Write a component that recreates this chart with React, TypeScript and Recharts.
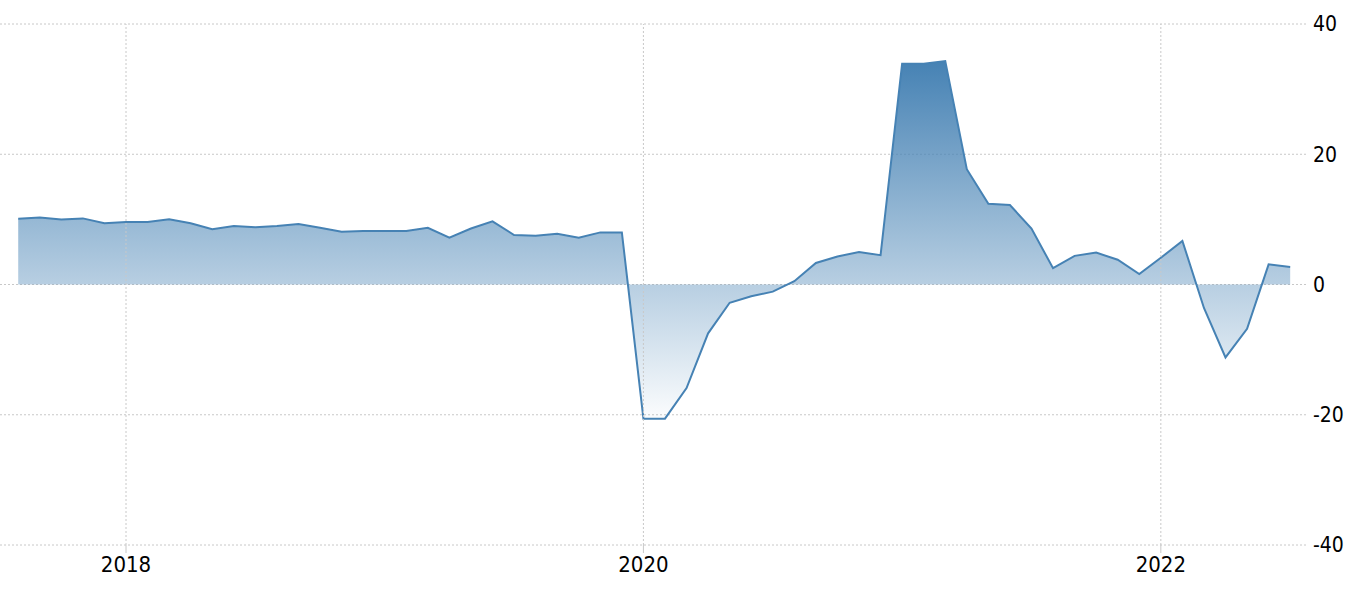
import { AreaChart, Area, XAxis, YAxis, CartesianGrid, ReferenceLine } from 'recharts';

// monthly readings, Aug 2017 .. Jul 2022
const months = [
  '2017-08', '2017-09', '2017-10', '2017-11', '2017-12',
  '2018-01', '2018-02', '2018-03', '2018-04', '2018-05', '2018-06',
  '2018-07', '2018-08', '2018-09', '2018-10', '2018-11', '2018-12',
  '2019-01', '2019-02', '2019-03', '2019-04', '2019-05', '2019-06',
  '2019-07', '2019-08', '2019-09', '2019-10', '2019-11', '2019-12',
  '2020-01', '2020-02', '2020-03', '2020-04', '2020-05', '2020-06',
  '2020-07', '2020-08', '2020-09', '2020-10', '2020-11', '2020-12',
  '2021-01', '2021-02', '2021-03', '2021-04', '2021-05', '2021-06',
  '2021-07', '2021-08', '2021-09', '2021-10', '2021-11', '2021-12',
  '2022-01', '2022-02', '2022-03', '2022-04', '2022-05', '2022-06',
  '2022-07',
];

const values = [
  10.1, 10.3, 10.0, 10.15, 9.4,
  9.6, 9.6, 10.0, 9.4, 8.5, 9.0,
  8.8, 9.0, 9.3, 8.7, 8.1, 8.2,
  8.2, 8.2, 8.7, 7.2, 8.6, 9.7,
  7.6, 7.5, 7.8, 7.2, 8.0, 8.0,
  -20.6, -20.6, -15.9, -7.5, -2.8, -1.8,
  -1.1, 0.5, 3.3, 4.3, 5.0, 4.5,
  33.9, 33.9, 34.3, 17.7, 12.4, 12.2,
  8.6, 2.5, 4.4, 4.9, 3.8, 1.6,
  4.1, 6.7, -3.6, -11.2, -6.8, 3.1,
  2.7,
];

const yearTicks = ['2018', '2020', '2022'];
const yTicks = [-40, -20, 0, 20, 40];

const data = months.map((m, i) => ({ idx: i, month: m, value: values[i] }));
const xTicks = yearTicks.map((y) => months.indexOf(`${y}-01`));

const font = "'DejaVu Sans Condensed', 'DejaVu Sans', sans-serif";
const gridColor = '#c8c8c8';

export default function App() {
  return (
    <div style={{ position: 'absolute', left: 0, top: 0, background: '#fff' }}>
      <AreaChart
        width={1370}
        height={594}
        data={data}
        margin={{ top: 24, right: 0, left: 0, bottom: 0 }}
      >
        <defs>
          <linearGradient id="fillBlue" x1="0" y1="0" x2="0" y2="1">
            <stop offset="0%" stopColor="#4682b4" stopOpacity={1} />
            <stop offset="100%" stopColor="#4682b4" stopOpacity={0.02} />
          </linearGradient>
        </defs>
        <CartesianGrid stroke={gridColor} strokeDasharray="2 2" vertical={false} />
        {xTicks.map((t) => (
          <ReferenceLine key={t} x={t} stroke={gridColor} strokeDasharray="2 2" />
        ))}
        <XAxis
          dataKey="idx"
          type="number"
          height={49}
          domain={[-0.845, 59.78]}
          ticks={xTicks}
          tickFormatter={(v: number) => months[v].slice(0, 4)}
          axisLine={false}
          tickLine={{ stroke: gridColor }}
          tickSize={8}
          tickMargin={3}
          tick={{ fill: '#000', fontSize: 22, fontFamily: font }}
          allowDataOverflow
        />
        <YAxis
          orientation="right"
          domain={[-40, 40]}
          ticks={yTicks}
          width={63}
          axisLine={false}
          tickLine={false}
          tickSize={6}
          tickMargin={0}
          tick={{ fill: '#000', fontSize: 21, fontFamily: font }}
        />
        <Area
          type="linear"
          dataKey="value"
          stroke="#4682b4"
          strokeWidth={2}
          fill="url(#fillBlue)"
          fillOpacity={1}
          dot={false}
          activeDot={false}
          isAnimationActive={false}
        />
      </AreaChart>
    </div>
  );
}
